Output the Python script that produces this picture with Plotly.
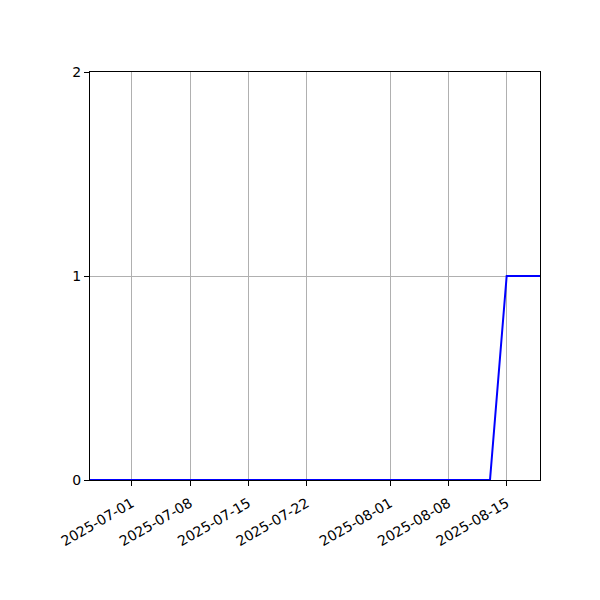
import plotly.graph_objects as go

dates = ["2025-06-26", "2025-08-13", "2025-08-15", "2025-08-19"]
values = [0, 0, 1, 1]

tick_dates = ["2025-07-01", "2025-07-08", "2025-07-15", "2025-07-22",
              "2025-08-01", "2025-08-08", "2025-08-15"]
y_ticks = [0, 1, 2]

fig = go.Figure()
fig.add_trace(go.Scatter(x=dates, y=values, mode="lines",
                         line=dict(color="blue", width=2)))

# page body adds 8px, so margins are shifted to land the axes where matplotlib had them
fig.update_layout(
    width=600, height=600,
    margin=dict(l=82, r=68, t=64, b=128),
    plot_bgcolor="white", paper_bgcolor="white",
    font=dict(family="DejaVu Sans", size=14, color="black"),
    showlegend=False,
)
fig.update_xaxes(
    type="date", range=["2025-06-26", "2025-08-19"],
    tickvals=tick_dates, ticktext=tick_dates, tickangle=-30,
    ticklabelstandoff=4,
    showgrid=True, gridcolor="#b0b0b0", gridwidth=1,
    showline=True, linecolor="black", linewidth=1, mirror=True,
    ticks="outside", ticklen=5, tickcolor="black", zeroline=False,
)
fig.update_yaxes(
    range=[0, 2], tickvals=y_ticks,
    showgrid=True, gridcolor="#b0b0b0", gridwidth=1,
    showline=True, linecolor="black", linewidth=1, mirror=True,
    ticks="outside", ticklen=5, tickcolor="black", zeroline=False,
)
fig.write_html("out.html")
